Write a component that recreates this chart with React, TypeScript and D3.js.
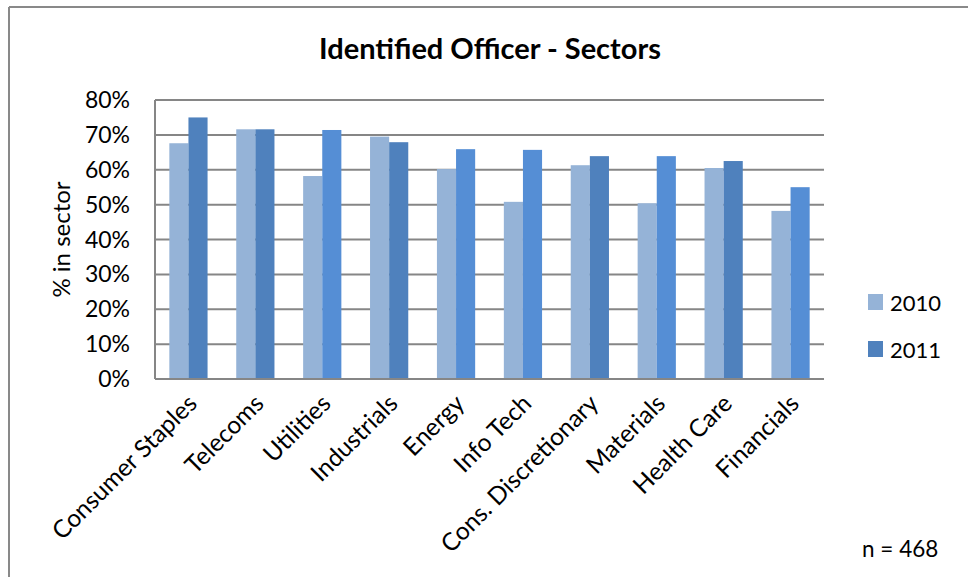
import React from "react";
import * as d3 from "d3";

const categories = [
  "Consumer Staples",
  "Telecoms",
  "Utilities",
  "Industrials",
  "Energy",
  "Info Tech",
  "Cons. Discretionary",
  "Materials",
  "Health Care",
  "Financials",
];
const values2010 = [67.6, 71.6, 58.2, 69.5, 60.2, 50.8, 61.3, 50.4, 60.5, 48.2];
const values2011 = [75.0, 71.6, 71.4, 67.9, 65.9, 65.7, 63.9, 63.9, 62.5, 55.0];
const seriesNames = ["2010", "2011"];
const yTicks = [0, 10, 20, 30, 40, 50, 60, 70, 80];

const C2010 = "#95B3D7";
const C2011 = "#4F81BD";
const C2011b = "#558ED5";
const colors2011 = [C2011, C2011, C2011b, C2011, C2011b, C2011b, C2011, C2011b, C2011, C2011b];

const W = 968;
const H = 577;
const FONT = "Lato, 'Open Sans', sans-serif";

export default function App() {
  const left = 155;
  const right = 824;
  const top = 100;
  const bottom = 379;

  const x = d3.scaleBand<string>().domain(categories).range([left, right]).paddingInner(0).paddingOuter(0);
  const y = d3.scaleLinear().domain([0, 80]).range([bottom, top]);
  const bw = x.bandwidth();
  const barW = bw / 3.5;
  const grid = "#868686";

  return (
    <svg width={W} height={H} style={{ position: "absolute", left: 0, top: 0, background: "#fff" }}>
      <rect x={0} y={0} width={W} height={H} fill="#fff" />
      <line x1={9} y1={7} x2={W} y2={7} stroke="#898989" strokeWidth={2} />
      <line x1={9} y1={7} x2={9} y2={H} stroke="#898989" strokeWidth={2} />

      <text x={490} y={59} textAnchor="middle" fontFamily={FONT} fontWeight="bold" fontSize={29} fill="#000">
        Identified Officer - Sectors
      </text>

      {yTicks.map((t) => (
        <line key={t} x1={left} x2={right} y1={y(t)} y2={y(t)} stroke={grid} strokeWidth={2} />
      ))}
      {yTicks.map((t) => (
        <text key={"l" + t} x={130} y={y(t) + 8} textAnchor="end" fontFamily={FONT} fontSize={23} fill="#000">
          {t}%
        </text>
      ))}
      <text
        transform={`translate(70,${(top + bottom) / 2}) rotate(-90)`}
        textAnchor="middle"
        fontFamily={FONT}
        fontSize={24}
        fill="#000"
      >
        % in sector
      </text>

      {categories.map((c, i) => {
        const cx = (x(c) as number) + bw / 2;
        return (
          <g key={c}>
            <rect x={cx - barW} y={y(values2010[i])} width={barW} height={bottom - y(values2010[i])} fill={C2010} />
            <rect x={cx} y={y(values2011[i])} width={barW} height={bottom - y(values2011[i])} fill={colors2011[i]} />
          </g>
        );
      })}

      <line x1={left} x2={left} y1={top} y2={bottom} stroke={grid} strokeWidth={2} />
      <line x1={left} x2={right} y1={bottom} y2={bottom} stroke={grid} strokeWidth={2} />

      {categories.map((c) => {
        const cx = (x(c) as number) + bw / 2;
        return (
          <text
            key={"c" + c}
            transform={`translate(${cx + 10},${bottom + 26}) rotate(-45)`}
            textAnchor="end"
            fontFamily={FONT}
            fontSize={24.5}
            fill="#000"
          >
            {c}
          </text>
        );
      })}

      {seriesNames.map((s, i) => (
        <g key={s} transform={`translate(868,${294 + i * 47})`}>
          <rect x={0} y={0} width={15} height={16} fill={i === 0 ? C2010 : C2011} />
          <text x={22} y={17} fontFamily={FONT} fontSize={22} fill="#000">
            {s}
          </text>
        </g>
      ))}

      <text x={862} y={557} fontFamily={FONT} fontSize={22.5} fill="#000">
        n = 468
      </text>
    </svg>
  );
}
